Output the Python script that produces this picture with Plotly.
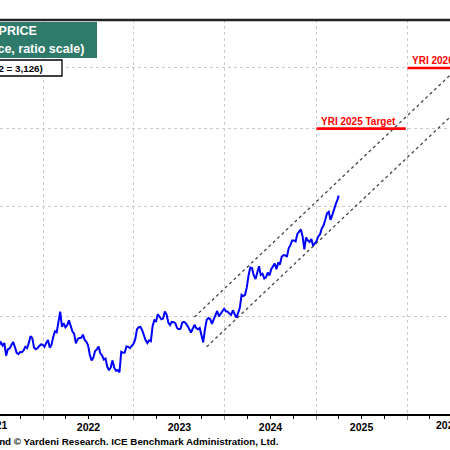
import math
import pandas as pd
import plotly.graph_objects as go

# ---------------- data ----------------
week_start = "2021-07-09"          # first weekly (Friday) observation
last_date = "2025-04-02"           # final daily observation
gold_2021 = [1805, 1822, 1800, 1817, 1735, 1776, 1781, 1806, 1825, 1792, 1754, 1745, 1758,
             1757, 1768, 1792, 1783, 1818, 1864, 1850, 1788, 1776, 1782, 1798, 1808, 1806]
gold_2022 = [1792, 1818, 1837, 1787, 1805, 1858, 1898, 1890, 1966, 2040, 1930, 1954,
             1925, 1940, 1975, 1935, 1897, 1880, 1815, 1843, 1851, 1852, 1874, 1840, 1826,
             1802, 1739, 1705, 1722, 1765, 1775, 1795, 1750, 1737, 1710, 1716, 1665, 1644, 1661,
             1705, 1660, 1641, 1645, 1632, 1760, 1754, 1755, 1795, 1792, 1783, 1798, 1812]
gold_2023 = [1840, 1910, 1926, 1928, 1905, 1862, 1836, 1817, 1836, 1830, 1935, 1977, 1969,
             2020, 2003, 1983, 1988, 2040, 2018, 1960, 1942, 1965, 1962, 1955, 1921, 1912,
             1915, 1960, 1965, 1955, 1936, 1914, 1889, 1915, 1943, 1920, 1912, 1921, 1870,
             1822, 1910, 1980, 1992, 1985, 1950, 1981, 2000, 2045, 2005, 2025, 2050, 2062]
gold_2024 = [2042, 2040, 2025, 2015, 2050, 2025, 1995, 2028, 2068, 2170, 2160, 2170, 2230,
             2330, 2400, 2395, 2330, 2300, 2355, 2410, 2335, 2345, 2305, 2315, 2355, 2330,
             2385, 2405, 2435, 2385, 2445, 2425, 2495, 2510, 2510, 2495, 2575, 2605, 2650,
             2650, 2640, 2715, 2735, 2760, 2690, 2565, 2680, 2650, 2635, 2665, 2600, 2620]
gold_2025 = [2645, 2690, 2712, 2770, 2800, 2860, 2930, 2945, 2860, 2910, 2985, 3030, 3080, 3126]

upper_channel_dates = ["2023-09-01", "2026-06-30"]
upper_channel_values = [2000, 4900]
lower_channel_dates = ["2023-10-20", "2026-06-30"]
lower_channel_values = [1792, 4200]

target_2025_dates = ["2025-01-03", "2025-12-27"]
target_2025_value = 4000
target_2026_dates = ["2026-01-03", "2026-12-31"]
target_2026_value = 5000

y_grid_values = [2000, 3000, 4000, 5000]
edge_year_labels = ["2021", "2026"]   # partly visible year labels at the cropped edges

title_line1 = "GOLD PRICE"
title_line2 = "(dollars per ounce, ratio scale)"
legend_text = "(4/2 = 3,126)"
source_text = "Source: LSEG Datastream and © Yardeni Research. ICE Benchmark Administration, Ltd."

# ---------------- build ----------------
gold = gold_2021 + gold_2022 + gold_2023 + gold_2024 + gold_2025
dates = list(pd.date_range(week_start, periods=len(gold) - 1, freq="W-FRI")) + [pd.Timestamp(last_date)]

FONT = "Liberation Sans, Arial, sans-serif"
fig = go.Figure()

for d, v in [(upper_channel_dates, upper_channel_values), (lower_channel_dates, lower_channel_values)]:
    fig.add_trace(go.Scatter(x=d, y=v, mode="lines",
                             line=dict(color="#444444", width=1.3, dash="dot"),
                             hoverinfo="skip"))

for d, v in [(target_2025_dates, target_2025_value), (target_2026_dates, target_2026_value)]:
    fig.add_trace(go.Scatter(x=d, y=[v, v], mode="lines",
                             line=dict(color="#ff0000", width=2.6), hoverinfo="skip"))

fig.add_trace(go.Scatter(x=dates, y=gold, mode="lines",
                         line=dict(color="#0000ff", width=2)))

def py(pix):
    # pixel row -> paper y (plot area spans rows 20..414)
    return (414 - pix) / 394

def px(pix):
    return pix / 450

shapes = [
    dict(type="rect", xref="paper", yref="paper", x0=-0.05, x1=px(97), y0=py(58), y1=py(22),
         fillcolor="#2e7b6c", line=dict(width=0), layer="above"),
    dict(type="rect", xref="paper", yref="paper", x0=-0.05, x1=px(62), y0=py(76), y1=py(60),
         fillcolor="white", line=dict(color="black", width=1.3), layer="above"),
    dict(type="line", xref="paper", yref="paper", x0=0, x1=1, y0=1, y1=1,
         line=dict(color="#222222", width=2.5), layer="above"),
]

annotations = [
    dict(text="<b>" + title_line1 + "</b>", xref="paper", yref="paper", x=px(39), y=py(31),
         xanchor="right", yanchor="middle", showarrow=False,
         font=dict(family=FONT, size=12.5, color="white")),
    dict(text="<b>" + title_line2 + "</b>", xref="paper", yref="paper", x=px(86), y=py(49),
         xanchor="right", yanchor="middle", showarrow=False,
         font=dict(family=FONT, size=12.5, color="white")),
    dict(text="<b>" + legend_text + "</b>", xref="paper", yref="paper", x=px(45), y=py(68),
         xanchor="right", yanchor="middle", showarrow=False,
         font=dict(family=FONT, size=9.8, color="black")),
    dict(text="<b>YRI 2025 Target</b>", x="2025-01-14", y=math.log10(target_2025_value),
         xanchor="left", yanchor="middle", yshift=7, showarrow=False,
         font=dict(family=FONT, size=10, color="#ff0000")),
    dict(text="<b>YRI 2026 Target</b>", x="2026-01-14", y=math.log10(target_2026_value),
         xanchor="left", yanchor="middle", yshift=7, showarrow=False,
         font=dict(family=FONT, size=10, color="#ff0000")),
    dict(text="<b>" + source_text + "</b>", xref="paper", yref="paper", x=px(281), y=py(441),
         xanchor="right", yanchor="middle", showarrow=False,
         font=dict(family=FONT, size=9.8, color="black")),
]
for lab, xpix in zip(edge_year_labels, [-4, 448]):
    annotations.append(dict(text="<b>" + lab + "</b>", xref="paper", yref="paper",
                            x=px(xpix), y=py(425), xanchor="center", yanchor="middle",
                            showarrow=False, font=dict(family=FONT, size=10.5, color="black")))

fig.update_layout(
    width=450, height=450,
    margin=dict(l=0, r=0, t=20, b=36),
    paper_bgcolor="white", plot_bgcolor="white",
    showlegend=False,
    shapes=shapes, annotations=annotations,
    xaxis=dict(
        type="date", range=["2021-07-12 10:00", "2026-06-22 14:00"],
        dtick="M12", tick0="2021-01-01", ticklabelmode="period", tickformat="%Y",
        showgrid=True, gridcolor="#cccccc", griddash="dot", gridwidth=1,
        showline=True, linecolor="black", linewidth=2,
        ticks="outside", ticklen=4, tickcolor="#888888", tickwidth=1,
        ticklabelstandoff=-2,
        tickfont=dict(family=FONT, size=10.5, color="black", weight="bold"),
        minor=dict(dtick="M3", ticks="outside", ticklen=3, tickcolor="black", showgrid=False),
        zeroline=False,
    ),
    yaxis=dict(
        type="log", range=[math.log10(1399.6), math.log10(5965)],
        tickvals=y_grid_values, showticklabels=False, ticks="",
        showgrid=True, gridcolor="#cccccc", griddash="dot", gridwidth=1,
        showline=False, zeroline=False,
    ),
)

# the chart is a full-window picture: no page margin around the 450x450 figure
fig.write_html(
    "out.html",
    config={"displayModeBar": False},
    post_script="document.body.style.margin='0';document.body.style.overflow='hidden';",
)
